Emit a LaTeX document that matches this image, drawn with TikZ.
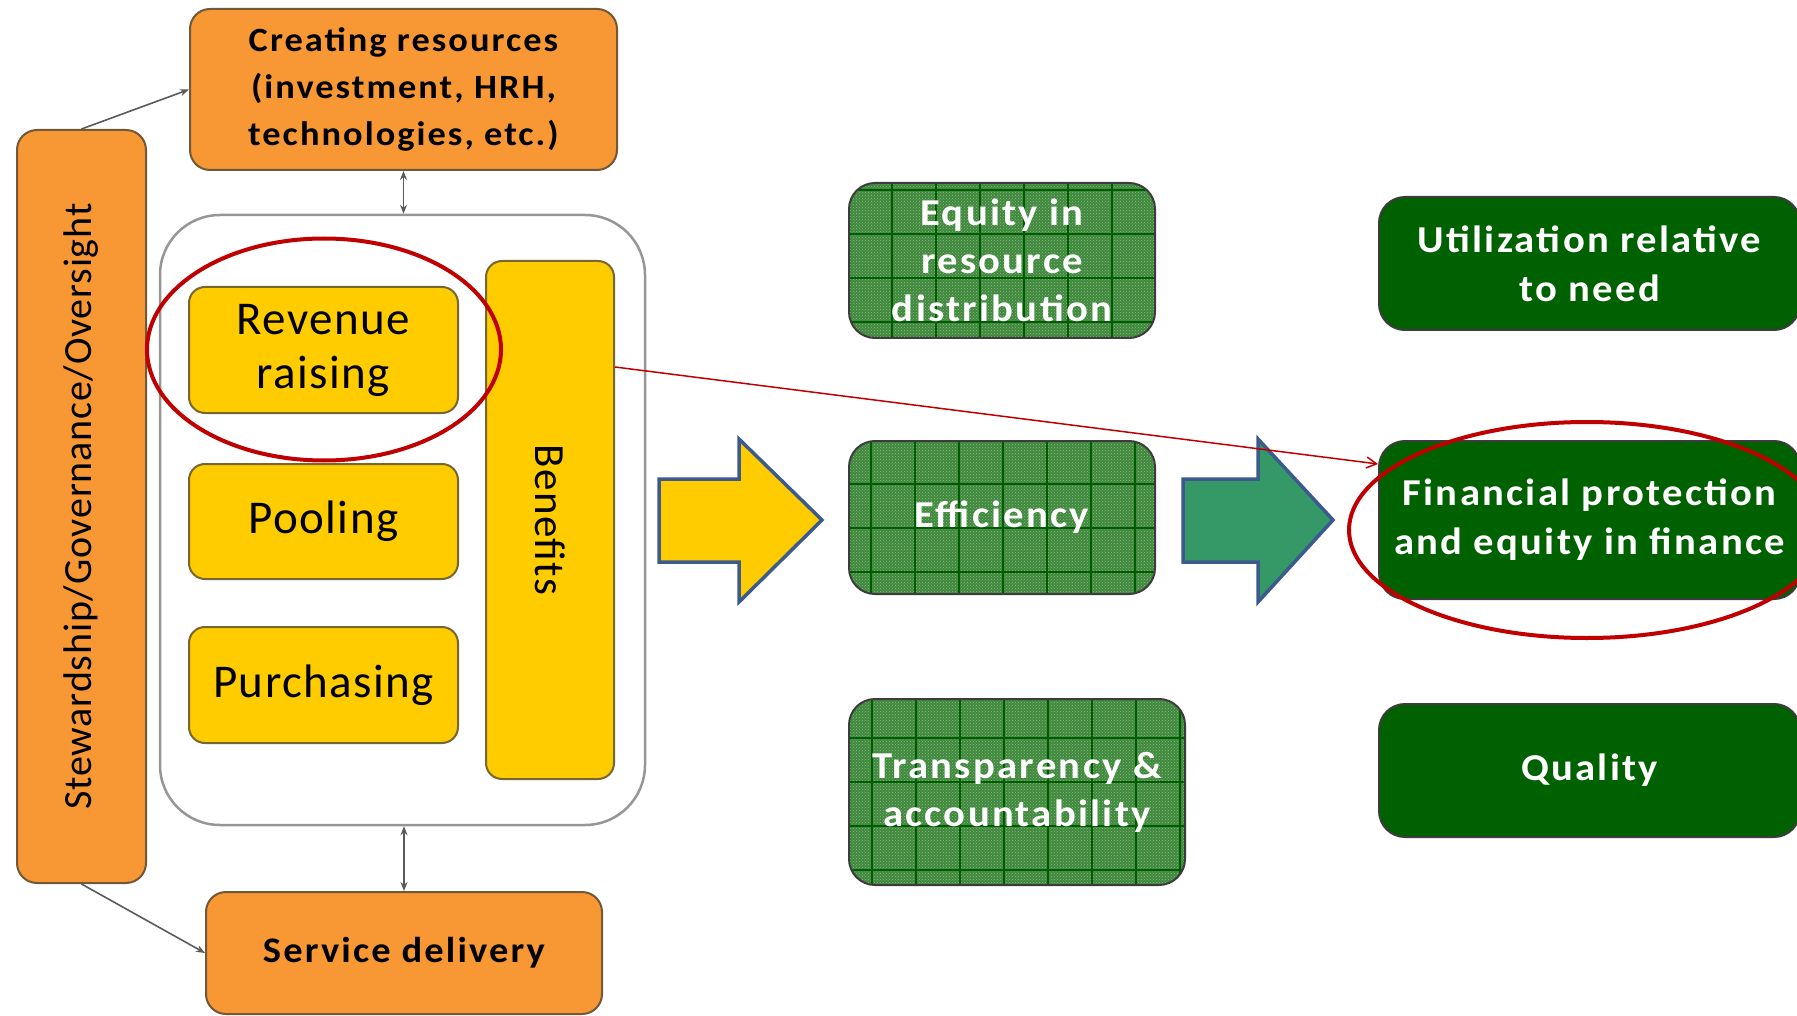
\documentclass[tikz,border=0pt]{standalone}
\usepackage{fontspec}
\setmainfont{Carlito}
\usetikzlibrary{arrows.meta,patterns}
\definecolor{orangeF}{RGB}{247,152,52}
\definecolor{orangeB}{RGB}{112,88,56}
\definecolor{yellowF}{RGB}{255,204,0}
\definecolor{yellowB}{RGB}{118,102,50}
\definecolor{dgreen}{RGB}{0,97,0}
\definecolor{pgreen}{RGB}{64,136,62}
\definecolor{lgreen}{RGB}{135,188,128}
\definecolor{gridgreen}{RGB}{0,92,0}
\definecolor{boxgray}{RGB}{60,60,60}
\definecolor{arrowblue}{RGB}{60,90,140}
\definecolor{arrowgreen}{RGB}{52,152,103}
\definecolor{redC}{RGB}{192,0,0}
\definecolor{contB}{RGB}{150,150,150}
\definecolor{lineC}{RGB}{90,90,90}
\newcommand{\boldwide}[2]{\bfseries\fontsize{#1}{#2}\selectfont\addfontfeature{LetterSpace=6,FakeStretch=1.07}}
\newcommand{\regwide}[3]{\fontsize{#1}{#2}\selectfont\addfontfeature{LetterSpace=#3}}
\tikzset{
  basebox/.style={rounded corners=20pt, line width=2pt, align=center, inner sep=0pt},
  orangebox/.style={basebox, fill=orangeF, draw=orangeB, font=\boldwide{34}{47}},
  yellowbox/.style={basebox, rounded corners=16pt, fill=yellowF, draw=yellowB, font=\regwide{47}{54}{3}},
  patbox/.style={basebox, rounded corners=26pt, fill=pgreen, draw=boxgray, text=white,
    font=\boldwide{38}{48},
    path picture={
      \fill[pattern=crosshatch dots, pattern color=lgreen] (path picture bounding box.south west) rectangle (path picture bounding box.north east);
      \draw[gridgreen, line width=1.8pt, step=44pt] (path picture bounding box.south west) grid (path picture bounding box.north east);
    }},
  darkbox/.style={basebox, rounded corners=26pt, fill=dgreen, draw=boxgray, text=white,
    font=\boldwide{38}{49}},
  conn/.style={lineC, line width=1.6pt},
  tipS/.style={-{Stealth[length=9pt,width=7pt]}},
  tipD/.style={{Stealth[length=9pt,width=7pt]}-{Stealth[length=9pt,width=7pt]}},
  bigarrow/.style={draw=arrowblue, line width=3.5pt, line join=miter},
  redring/.style={draw=redC, line width=4pt}
}
\begin{document}
\begin{tikzpicture}[x=1pt,y=1pt]
\useasboundingbox (0,0) rectangle (1797,-1016);
% container
\node[draw=contB, line width=2.5pt, rounded corners=60pt, fill=white, minimum width=485pt, minimum height=610pt] (cont) at (402.5,-520) {};
% left column
\node[orangebox, font=\regwide{40}{46}{2}, rotate=90, minimum width=753pt, minimum height=129pt] (stew) at (81.5,-506.5) {Stewardship/Governance/Oversight};
\node[orangebox, minimum width=427pt, minimum height=161pt] (create) at (403.5,-89.5) {Creating resources\\(investment, HRH,\\technologies, etc.)};
\node[orangebox, font=\boldwide{36}{44}, minimum width=396pt, minimum height=122pt] (service) at (404,-953) {Service delivery};
\node[yellowbox, minimum width=269pt, minimum height=126pt] (revenue) at (323.5,-350) {Revenue\\raising};
\node[yellowbox, minimum width=269pt, minimum height=115pt] (pooling) at (323.5,-521.5) {Pooling};
\node[yellowbox, minimum width=269pt, minimum height=116pt] (purchasing) at (323.5,-685) {Purchasing};
\node[yellowbox, font=\regwide{43}{48}{3}, rotate=-90, minimum width=518pt, minimum height=128pt] (benefits) at (550,-520) {Benefits};
% middle column
\node[patbox, minimum width=306pt, minimum height=155pt] (equity) at (1002,-260.5) {Equity in\\resource\\distribution};
\node[patbox, minimum width=306pt, minimum height=153pt] (efficiency) at (1002,-517.5) {Efficiency};
\node[patbox, minimum width=336pt, minimum height=186pt] (transp) at (1017,-792) {Transparency \&\\accountability};
% right column
\node[darkbox, minimum width=421pt, minimum height=133pt] (util) at (1589.5,-263.5) {Utilization relative\\to need};
\node[darkbox, minimum width=421pt, minimum height=158pt] (finance) at (1589.5,-520) {Financial protection\\and equity in finance};
\node[darkbox, minimum width=421pt, minimum height=133pt] (quality) at (1589.5,-770.5) {Quality};
% big arrows
\draw[bigarrow, fill=yellowF] (659,-479) -- (739,-479) -- (739,-439) -- (822,-520) -- (739,-602) -- (739,-562) -- (659,-562) -- cycle;
\draw[bigarrow, fill=arrowgreen] (1183,-479) -- (1258,-479) -- (1258,-439) -- (1333,-520) -- (1258,-602) -- (1258,-562) -- (1183,-562) -- cycle;
% connectors
\draw[conn, tipS] (stew.east) -- (create.west);
\draw[conn, tipS] (stew.west) -- (service.west);
\draw[conn, tipD] (create.south) -- (create.south |- cont.north);
\draw[conn, tipD] (cont.south -| service.north) -- (service.north);
% red highlight
\draw[redring] (324,-349.5) ellipse [x radius=177pt, y radius=111pt];
\draw[redring] (1587,-530) ellipse [x radius=238pt, y radius=108pt];
\draw[redC, line width=1.5pt, -{Straight Barb[length=10pt,width=11pt]}] ([yshift=153pt]benefits.north) -- ([yshift=56pt]finance.west);
\end{tikzpicture}
\end{document}
